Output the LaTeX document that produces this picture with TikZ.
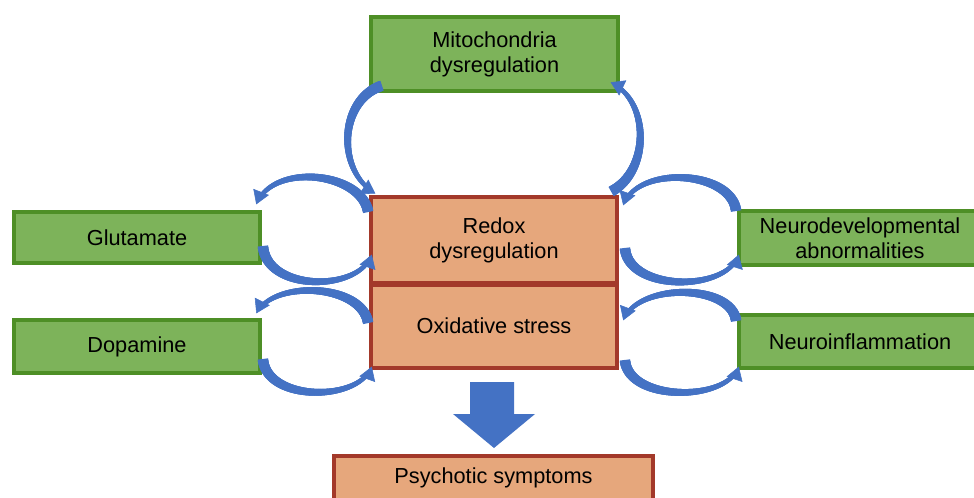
\documentclass[tikz,border=0pt]{standalone}
\usepackage{fontspec}
\setmainfont{Liberation Sans}
\usetikzlibrary{arrows.meta,decorations.markings,calc}
\definecolor{gfill}{HTML}{7DB35A}
\definecolor{gborder}{HTML}{4E8F26}
\definecolor{ofill}{HTML}{E6A77C}
\definecolor{oborder}{HTML}{A3392A}
\definecolor{arrowblue}{HTML}{4472C4}
\tikzset{
  boxtext/.style={font=\fontsize{16.3}{18.8}\selectfont, text=black, align=center, inner sep=0pt},
  greenbox/.style={boxtext, draw=gborder, fill=gfill, line width=3pt},
  orangebox/.style={boxtext, draw=oborder, fill=ofill, line width=3pt},
  curvearrow/.style={color=arrowblue, decorate, decoration={markings,
      mark=between positions 0 and 0.96 step 0.005 with {%
        \pgfmathsetmacro\rr{3.9-2.6*\pgfkeysvalueof{/pgf/decoration/mark info/sequence number}*0.005}%
        \fill[arrowblue] (-0.8pt,-\rr pt) rectangle (0.8pt,\rr pt);},
      mark=at position 0.995 with {\arrow[arrowblue]{Triangle[width=12.5pt,length=10pt]}}}},
}
\begin{document}
\begin{tikzpicture}[x=0.75pt,y=-0.75pt]
\useasboundingbox (0,0) rectangle (974,497);
% boxes
\node[greenbox, minimum width=185.25pt, minimum height=55.5pt] (mito) at (494.5,54) {Mitochondria\\dysregulation};
\node[orangebox, minimum width=184.5pt, minimum height=64.5pt] (redox) at (494,240) {Redox\\dysregulation};
\node[orangebox, minimum width=184.5pt, minimum height=63.75pt] (oxid) at (494,325.5) {Oxidative stress};
\node[greenbox, minimum width=184.5pt, minimum height=38.25pt] (glut) at (137,237.5) {Glutamate};
\node[greenbox, minimum width=184.5pt, minimum height=39.75pt] (dopa) at (137,346.5) {Dopamine};
\node[greenbox, minimum width=181.5pt, minimum height=40.5pt] (neurodev) at (860,238) {Neurodevelopmental\\abnormalities};
\node[greenbox, minimum width=181.5pt, minimum height=39.75pt] (neuroinf) at (860,341.5) {Neuroinflammation};
\node[orangebox, minimum width=239.25pt, minimum height=33pt] (psych) at (493.5,478) {Psychotic symptoms};
% redraw divider between redox and oxidative stress
\draw[oborder, line width=3pt] (redox.south west) -- (redox.south east);
% big down arrow
\fill[arrowblue] ($(oxid.south)+(-24,12)$) -- ++(44,0) -- ++(0,32) -- ++(21,0)
  -- ($(oxid.south)+(0,78)$)
  -- ($(oxid.south)+(-41,44)$) -- ++(17,0) -- cycle;
% coordinates for curved arrows
\coordinate (a1) at ($(redox.north west)+(-1,16)$);
\coordinate (a2) at ($(glut.north east)+(-6,-5)$);
\coordinate (b1) at ($(glut.north east)+(1,37)$);
\coordinate (b2) at ($(redox.north west)+(3,59)$);
\coordinate (c1) at ($(oxid.north west)+(-1,41)$);
\coordinate (c2) at ($(dopa.north east)+(-6,-4)$);
\coordinate (d1) at ($(dopa.north east)+(1,42)$);
\coordinate (d2) at ($(oxid.north west)+(3,85)$);
\coordinate (e1) at ($(neurodev.north west)+(-1,1)$);
\coordinate (e2) at ($(redox.north east)+(4,11)$);
\coordinate (f1) at ($(redox.north east)+(6,54)$);
\coordinate (f2) at ($(neurodev.north west)+(2,45)$);
\coordinate (g1) at ($(neuroinf.north west)+(-1,7)$);
\coordinate (g2) at ($(oxid.north east)+(4,40)$);
\coordinate (h1) at ($(oxid.north east)+(6,80)$);
\coordinate (h2) at ($(neuroinf.north west)+(2,53)$);
\coordinate (i1) at ($(mito.south west)+(12,-7)$);
\coordinate (i2) at ($(redox.north west)+(7,-1)$);
\coordinate (j1) at ($(redox.north east)+(-7,-4)$);
\coordinate (j2) at ($(mito.south east)+(-10,-11)$);
% curved arrows
\path[curvearrow] (a1) .. controls (360,172) and (272,162) .. (a2);
\path[curvearrow] (b1) .. controls (268,292) and (360,292) .. (b2);
\path[curvearrow] (c1) .. controls (360,283) and (272,280) .. (c2);
\path[curvearrow] (d1) .. controls (268,402) and (360,402) .. (d2);
\path[curvearrow] (e1) .. controls (730,170) and (636,165) .. (e2);
\path[curvearrow] (f1) .. controls (630,292) and (728,292) .. (f2);
\path[curvearrow] (g1) .. controls (730,283) and (636,283) .. (g2);
\path[curvearrow] (h1) .. controls (630,402) and (728,402) .. (h2);
\path[curvearrow] (i1) .. controls (340,100) and (335,170) .. (i2);
\path[curvearrow] (j1) .. controls (650,170) and (650,100) .. (j2);
\end{tikzpicture}
\end{document}
